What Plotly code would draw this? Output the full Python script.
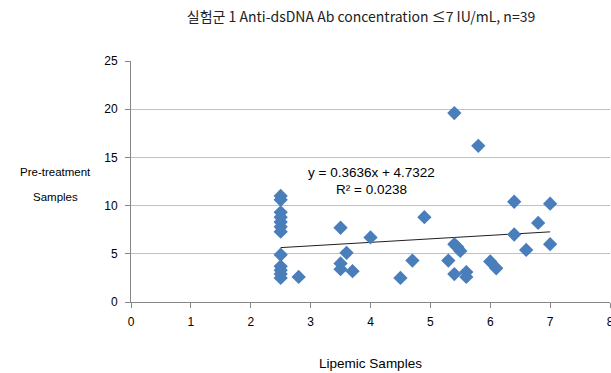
import plotly.graph_objects as go

# Lipemic sample values (x) and pre-treatment sample values (y), n=39
lipemic = [2.5, 2.5, 2.5, 2.5, 2.5, 2.5, 2.5, 2.5, 2.5, 2.5, 2.5, 2.5,
           2.8, 3.5, 3.6, 3.5, 3.5, 3.7, 4.0, 4.5, 4.7, 4.9,
           5.3, 5.4, 5.45, 5.5, 5.4, 5.6, 5.6, 5.4, 5.8,
           6.0, 6.1, 6.4, 6.4, 6.6, 6.8, 7.0, 7.0]
pretreatment = [11.0, 10.6, 9.3, 8.8, 8.3, 7.8, 7.3, 4.9, 3.7, 3.3, 2.9, 2.5,
                2.6, 7.7, 5.1, 4.0, 3.4, 3.2, 6.7, 2.5, 4.3, 8.8,
                4.3, 6.0, 5.7, 5.3, 2.9, 3.1, 2.6, 19.6, 16.2,
                4.2, 3.5, 10.4, 7.0, 5.4, 8.2, 10.2, 6.0]

slope = 0.3636
intercept = 4.7322
r_squared = 0.0238

x_ticks = [0, 1, 2, 3, 4, 5, 6, 7, 8]
y_ticks = [0, 5, 10, 15, 20, 25]

trend_x = [min(lipemic), max(lipemic)]
trend_y = [slope * v + intercept for v in trend_x]

W, H = 616, 373
plot_l, plot_r, plot_t, plot_b = 131, 614, 61, 302

fig = go.Figure()
fig.add_trace(go.Scatter(
    x=trend_x, y=trend_y, mode="lines",
    line=dict(color="#202020", width=1), hoverinfo="skip", showlegend=False))
fig.add_trace(go.Scatter(
    x=lipemic, y=pretreatment, mode="markers",
    marker=dict(symbol="diamond", size=11, color="#4A7EBB", line=dict(width=0)),
    showlegend=False))

def px_to_paper(px, py):
    return (px - plot_l) / (plot_r - plot_l), (plot_b - py) / (plot_b - plot_t)

def ann(text, px, py, size=12):
    xp, yp = px_to_paper(px, py)
    return dict(text=text, x=xp, y=yp, xref="paper", yref="paper",
                showarrow=False, xanchor="center", yanchor="middle",
                font=dict(size=size))

fig.update_layout(
    width=W, height=H, autosize=False,
    margin=dict(l=plot_l, r=W - plot_r, t=plot_t, b=H - plot_b),
    paper_bgcolor="white", plot_bgcolor="white",
    font=dict(family="Liberation Sans, Arial, sans-serif", size=12, color="#000000"),
    title=dict(text="실험군 1 Anti-dsDNA Ab concentration ≤7 IU/mL, n=39",
               x=361 / W, xanchor="center",
               y=1 - 17 / H, yanchor="middle",
               font=dict(family="Noto Sans CJK KR, sans-serif", size=14, color="#222222")),
    xaxis=dict(range=[0, 8], tickvals=x_ticks, ticktext=[str(t) for t in x_ticks],
               showgrid=False, zeroline=False, showline=True, linecolor="#868686",
               linewidth=1, ticks="outside", ticklen=5, tickcolor="#868686",
               tickfont=dict(size=12), ticklabelstandoff=4, ticklabeloverflow="allow",
               title=dict(text="Lipemic Samples", font=dict(size=13.5), standoff=30),
               fixedrange=True),
    yaxis=dict(range=[0, 25], tickvals=y_ticks, ticktext=[str(t) for t in y_ticks],
               showgrid=True, gridcolor="#C0C0C0", gridwidth=1, zeroline=False,
               showline=True, linecolor="#868686", linewidth=1,
               ticks="outside", ticklen=5, tickcolor="#868686",
               tickfont=dict(size=12), ticklabelstandoff=5, fixedrange=True),
    annotations=[
        ann("Pre-treatment", 55, 172, 11.5),
        ann("Samples", 55, 197, 11.5),
        ann(f"y = {slope}x + {intercept}", 374, 172, 13.5),
        ann(f"R² = {r_squared}", 374, 189, 13.5),
    ],
)

fig.write_html(
    "out.html",
    config={"responsive": False, "displayModeBar": False},
    post_script="document.body.style.margin='0';document.body.style.overflow='hidden';",
)
